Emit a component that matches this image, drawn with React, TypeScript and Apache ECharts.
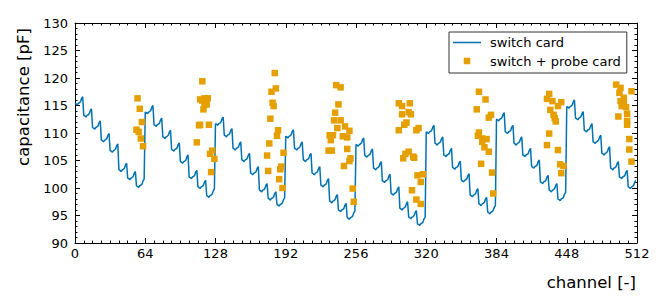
import React, { useEffect, useRef } from "react";
import * as echarts from "echarts";

// x axis (channel) ticks
const xMin = 0;
const xMax = 512;
const xInterval = 64;
// y axis (capacitance) ticks
const yMin = 90;
const yMax = 130;
const yInterval = 5;

// switch card: flat level of each 8-channel step, per 64-channel block (pF)
const block1Levels = [115.4, 113.2, 111.0, 108.7, 106.8, 103.3, 101.8, 100.4];
const block2Levels = [113.8, 111.5, 109.3, 107.0, 104.8, 102.0, 100.2, 98.6];
const block3Levels = [111.7, 109.6, 107.2, 105.1, 102.7, 99.6, 98.1, 97.0];
const block4Levels = [109.4, 107.2, 105.1, 102.7, 100.5, 97.6, 96.0, 94.6];
const block5Levels = [107.9, 105.9, 103.6, 101.3, 99.0, 96.3, 94.7, 93.5];
const block6Levels = [110.2, 108.1, 106.0, 103.7, 101.4, 98.7, 97.1, 95.6];
const block7Levels = [112.5, 110.2, 108.1, 106.0, 103.9, 101.1, 99.6, 98.0];
const block8Levels = [114.8, 112.7, 110.5, 108.4, 106.3, 103.6, 102.0, 100.2];
const blockLevels = [
  block1Levels, block2Levels, block3Levels, block4Levels,
  block5Levels, block6Levels, block7Levels, block8Levels,
];
// shape of one 8-channel step (offset from the level, pF)
const stepShape = [0, -0.1, -0.3, 0, 0.1, 0.3, 0.9, 1.2];

// switch + probe card: [channel, capacitance]
const probe1: [number, number][] = [
  [57, 116.3], [59, 114.4], [61, 112.0], [56, 110.6], [58, 110.2], [60, 109.0], [62, 107.6],
];
const probe2: [number, number][] = [
  [116, 119.4], [114, 116.1], [118, 116.3], [121, 116.3], [116, 115.9], [119, 115.8],
  [118, 115.1], [120, 115.2], [117, 114.3], [113, 111.4], [114, 111.5], [122, 111.5],
  [111, 108.3], [125, 106.8], [123, 106.2], [127, 105.3], [124, 102.9],
];
const probe3: [number, number][] = [
  [182, 120.9], [183, 118.1], [179, 117.5], [180, 115.5], [181, 114.9], [178, 112.6],
  [185, 110.5], [184, 109.5], [177, 108.1], [175, 105.9], [190, 106.4], [188, 103.9],
  [187, 103.4], [176, 103.1], [186, 101.6], [189, 100.0],
];
const probe4: [number, number][] = [
  [238, 118.7], [242, 118.3], [240, 115.2], [237, 113.7], [236, 112.3], [242, 112.3],
  [239, 110.9], [246, 111.2], [250, 110.4], [232, 109.6], [235, 109.6], [244, 109.4],
  [248, 109.2], [233, 108.7], [231, 106.8], [234, 106.8], [248, 107.1], [251, 105.4],
  [250, 104.9], [245, 104.0], [253, 99.9], [254, 97.5],
];
const probe5: [number, number][] = [
  [295, 115.4], [298, 114.9], [305, 115.4], [298, 113.4], [304, 113.8], [306, 113.4],
  [302, 111.9], [300, 111.5], [295, 110.5], [311, 110.5], [313, 110.9], [304, 106.6],
  [301, 106.2], [299, 105.4], [308, 105.7], [309, 105.5], [312, 102.3], [317, 102.5],
  [315, 101.1], [307, 99.6], [311, 97.9], [315, 97.1],
];
const probe6: [number, number][] = [
  [368, 117.5], [374, 116.1], [366, 114.3], [379, 113.3], [377, 112.8], [368, 110.1],
  [367, 109.5], [371, 109.0], [375, 108.9], [371, 108.4], [373, 107.4], [377, 106.6],
  [370, 104.4], [380, 102.8], [381, 99.0],
];
const probe7: [number, number][] = [
  [432, 117.1], [430, 116.2], [435, 115.8], [443, 115.6], [440, 114.9], [433, 114.2],
  [436, 113.3], [437, 112.7], [438, 112.1], [432, 109.9], [430, 107.8], [440, 106.9],
  [442, 104.3], [445, 104.0], [443, 102.7],
];
const probe8: [number, number][] = [
  [493, 118.8], [497, 118.2], [496, 117.3], [507, 117.6], [500, 116.4], [497, 115.8],
  [500, 115.6], [498, 114.9], [502, 114.7], [495, 113.0], [503, 113.5], [503, 112.2],
  [503, 111.5], [505, 108.9], [505, 107.0], [507, 104.8],
];
const probeClusters = [probe1, probe2, probe3, probe4, probe5, probe6, probe7, probe8];

const seriesNames = ["switch card", "switch + probe card"];

function buildSwitchCard(): [number, number][] {
  const out: [number, number][] = [];
  blockLevels.forEach((levels, b) => {
    levels.forEach((lvl, s) => {
      stepShape.forEach((off, i) => {
        out.push([b * 64 + s * 8 + i, Math.round((lvl + off) * 100) / 100]);
      });
    });
  });
  return out;
}

const FONT = "DejaVu Sans";
const BLUE = "#0072B2";
const ORANGE = "#E69F00";

export default function App() {
  const ref = useRef<HTMLDivElement>(null);

  useEffect(() => {
    if (!ref.current) return;
    const chart = echarts.init(ref.current, undefined, { renderer: "svg" });

    const tickCommon = {
      axisLine: { show: true, onZero: false, lineStyle: { color: "#000", width: 1 } },
      axisTick: { show: true, inside: true, length: 5, lineStyle: { color: "#000", width: 1 } },
      minorTick: { show: true, length: 2.5, lineStyle: { color: "#000", width: 1 } },
      splitLine: { show: false },
      minorSplitLine: { show: false },
    };

    const option: any = {
      animation: false,
      backgroundColor: "#fff",
      grid: { left: 75, right: 27, top: 23, bottom: 62, containLabel: false },
      legend: {
        orient: "vertical",
        left: 449,
        top: 32,
        padding: [4, 6, 5, 4],
        itemGap: 5,
        itemWidth: 28,
        itemHeight: 14,
        borderColor: "#333",
        borderWidth: 1,
        borderRadius: 0,
        backgroundColor: "#fff",
        textStyle: { fontFamily: FONT, fontSize: 13, color: "#000", padding: [0, 0, 0, 4] },
        data: [
          { name: seriesNames[0], icon: "path://M0,6.25h28v1.5h-28z" },
          { name: seriesNames[1], icon: "path://M0,0L0,0M10.75,3.75h6.5v6.5h-6.5zM28,14L28,14" },
        ],
      },
      xAxis: [
        {
          type: "value",
          position: "bottom",
          min: xMin,
          max: xMax,
          interval: xInterval,
          ...tickCommon,
          minorTick: { ...tickCommon.minorTick, splitNumber: 8 },
          axisLabel: { color: "#000", fontFamily: FONT, fontSize: 13, margin: 4 },
          name: "channel [-]",
          nameLocation: "end",
          nameGap: -1,
          nameTextStyle: {
            fontFamily: FONT,
            fontSize: 16.5,
            color: "#000",
            align: "right",
            verticalAlign: "top",
            padding: [31, 0, 0, 0],
          },
        },
        {
          type: "value",
          position: "top",
          min: xMin,
          max: xMax,
          interval: xInterval,
          ...tickCommon,
          minorTick: { ...tickCommon.minorTick, splitNumber: 8 },
          axisLabel: { show: false },
        },
      ],
      yAxis: [
        {
          type: "value",
          position: "left",
          min: yMin,
          max: yMax,
          interval: yInterval,
          ...tickCommon,
          minorTick: { ...tickCommon.minorTick, splitNumber: 5 },
          axisLabel: { color: "#000", fontFamily: FONT, fontSize: 13, margin: 7 },
          name: "capacitance [pF]",
          nameLocation: "middle",
          nameRotate: 90,
          nameGap: 39,
          nameTextStyle: {
            fontFamily: FONT,
            fontSize: 16.5,
            color: "#000",
            padding: [0, 0, 0, 72],
          },
        },
        {
          type: "value",
          position: "right",
          min: yMin,
          max: yMax,
          interval: yInterval,
          ...tickCommon,
          minorTick: { ...tickCommon.minorTick, splitNumber: 5 },
          axisLabel: { show: false },
        },
      ],
      series: [
        {
          name: seriesNames[0],
          type: "line",
          xAxisIndex: 0,
          yAxisIndex: 0,
          data: buildSwitchCard(),
          showSymbol: false,
          symbol: "none",
          lineStyle: { color: BLUE, width: 1.5 },
          itemStyle: { color: BLUE },
          z: 2,
        },
        {
          name: seriesNames[1],
          type: "scatter",
          xAxisIndex: 0,
          yAxisIndex: 0,
          data: probeClusters.flat(),
          symbol: "rect",
          symbolSize: 6.5,
          itemStyle: { color: ORANGE, opacity: 1 },
          z: 3,
        },
      ],
    };

    chart.setOption(option);
    return () => chart.dispose();
  }, []);

  return (
    <div
      ref={ref}
      style={{ position: "fixed", left: 0, top: 0, width: 664, height: 305, background: "#fff" }}
    />
  );
}
